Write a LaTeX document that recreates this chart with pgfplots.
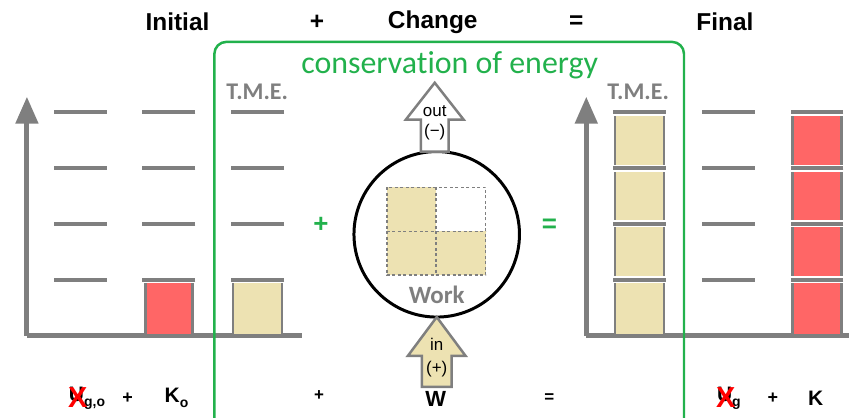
\documentclass[border=0pt]{standalone}
\usepackage{pgfplots}
\pgfplotsset{compat=1.18}
\usetikzlibrary{arrows.meta}
\usepackage{fontspec}
\setmainfont{Liberation Sans}
\newfontfamily\calibri[Ligatures={NoCommon}]{Carlito}
\definecolor{linegray}{RGB}{127,127,127}
\definecolor{barred}{RGB}{255,102,102}
\definecolor{tan}{RGB}{237,226,178}
\definecolor{cgreen}{RGB}{34,177,76}
\newcommand\fs[1]{\fontsize{#1}{#1}\selectfont}
\pgfplotsset{
  energybars/.style={
    scale only axis, height=239.5pt,
    ymin=0, ymax=4.277, xmin=0.4,
    axis lines=left,
    axis line style={draw=linegray, line width=5pt},
    x axis line style={-},
    y axis line style={-{Triangle[width=22pt,length=27pt]}},
    xtick=\empty, ytick=\empty, clip=false,
  },
  levelhalo/.style={only marks, mark=-, mark size=27pt, mark options={draw=white, line width=7pt}},
  levelline/.style={only marks, mark=-, mark size=26.5pt, mark options={draw=linegray, line width=4pt}},
  ebar/.style={ybar, bar shift=0pt, bar width=49pt, draw=linegray, line width=2.5pt},
}
\begin{document}
\begin{tikzpicture}
% ---------- Initial energy bar chart ----------
\begin{axis}[energybars, at={(27pt,82.5pt)}, anchor=south west,
  width=276pt, xmax=3.501]
\addplot[ebar, fill=barred, bar width=47pt] coordinates {(2,1)};
\addplot[ebar, fill=tan] coordinates {(3,1)};
\addplot[levelhalo] coordinates {(1,1)(1,2)(1,3)(1,4)(2,1)(2,2)(2,3)(2,4)(3,1)(3,2)(3,3)(3,4)};
\addplot[levelline] coordinates {(1,1)(1,2)(1,3)(1,4)(2,1)(2,2)(2,3)(2,4)(3,1)(3,2)(3,3)(3,4)};
\end{axis}
% ---------- Final energy bar chart ----------
\begin{axis}[energybars, at={(588pt,82.5pt)}, anchor=south west,
  width=263pt, xmax=3.355]
\addplot[ebar, fill=tan] coordinates {(1,4)};
\addplot[ebar, fill=barred] coordinates {(3,4)};
\addplot[levelhalo] coordinates {(1,1)(1,2)(1,3)(1,4)(2,1)(2,2)(2,3)(2,4)(3,1)(3,2)(3,3)(3,4)};
\addplot[levelline] coordinates {(1,1)(1,2)(1,3)(1,4)(2,1)(2,2)(2,3)(2,4)(3,1)(3,2)(3,3)(3,4)};
\end{axis}
% ---------- overlay in pixel coordinates ----------
\begin{axis}[at={(0,0)}, anchor=south west, scale only axis,
  width=851pt, height=419pt, xmin=0, xmax=851, ymin=0, ymax=419,
  y dir=reverse, hide axis, clip=false]
\path (axis cs:0,0) rectangle (axis cs:851,419);
% green conservation box
\draw[cgreen, line width=2.5pt, rounded corners=12pt]
  (axis cs:215,419) -- (axis cs:215,42) -- (axis cs:686,42) -- (axis cs:686,419);
\node[cgreen] at (axis cs:451,65) {\calibri\fs{32}conservation of energy};
% titles
\node at (axis cs:178,22) {\fs{24.5}\bfseries Initial};
\node at (axis cs:318,22) {\fs{24.5}\bfseries +};
\node at (axis cs:434,22) {\fs{24.5}\bfseries Change};
\node at (axis cs:578,22) {\fs{24.5}\bfseries =};
\node at (axis cs:727,22) {\fs{24.5}\bfseries Final};
% T.M.E. labels
\node[linegray] at (axis cs:258,92) {\calibri\fs{24}\bfseries T.M.E.};
\node[linegray] at (axis cs:640,92) {\calibri\fs{24}\bfseries T.M.E.};
% green operators
\node[cgreen] at (axis cs:322,226) {\fs{26}\bfseries +};
\node[cgreen] at (axis cs:551,226) {\fs{26}\bfseries =};
% work circle
\draw[black, line width=3pt] (axis cs:438,235) circle [radius=83pt];
\addplot[fill=tan, draw=none] coordinates {(388,188)(437.5,188)(437.5,232)(388,232)} --cycle;
\addplot[fill=tan, draw=none] coordinates {(388,232)(437.5,232)(437.5,276)(388,276)} --cycle;
\addplot[fill=tan, draw=none] coordinates {(437.5,232)(487,232)(487,276)(437.5,276)} --cycle;
\draw[linegray, line width=1.5pt, dash pattern=on 3pt off 2.5pt]
  (axis cs:388,188) rectangle (axis cs:487,276)
  (axis cs:437.5,188) -- (axis cs:437.5,276)
  (axis cs:388,232) -- (axis cs:487,232);
\node[linegray] at (axis cs:438,296) {\calibri\fs{25}\bfseries Work};
% out arrow
\draw[fill=white, draw=linegray, line width=2.5pt, line join=miter]
  (axis cs:436,83) -- (axis cs:465,120) -- (axis cs:450,120) -- (axis cs:450,152)
  -- (axis cs:422,152) -- (axis cs:422,120) -- (axis cs:407,120) -- cycle;
\node at (axis cs:436,111) {\fs{17}out};
\node at (axis cs:436,132) {\fs{17}(\textminus)};
% in arrow
\draw[fill=tan, draw=linegray, line width=2.5pt, line join=miter]
  (axis cs:438,318) -- (axis cs:467,357) -- (axis cs:453,357) -- (axis cs:453,388)
  -- (axis cs:423,388) -- (axis cs:423,357) -- (axis cs:409,357) -- cycle;
\node at (axis cs:438,345) {\fs{17}in};
\node at (axis cs:438,370) {\fs{17}(+)};
% bottom equation
\node[anchor=west, inner sep=0pt] at (axis cs:69,399) {\fs{21}\bfseries U\raisebox{-5pt}{\fs{14}g,o}};
\node[red] at (axis cs:78,399) {\fs{29}\bfseries X};
\node at (axis cs:128,399) {\fs{18}\bfseries +};
\node[anchor=west, inner sep=0pt] at (axis cs:165,399) {\fs{21}\bfseries K\raisebox{-5pt}{\fs{14}o}};
\node at (axis cs:320,397) {\fs{17}\bfseries +};
\node at (axis cs:437,400) {\fs{22}\bfseries W};
\node at (axis cs:551,399) {\fs{17}\bfseries =};
\node[anchor=west, inner sep=0pt] at (axis cs:719,399) {\fs{21}\bfseries U\raisebox{-5pt}{\fs{14}g}};
\node[red] at (axis cs:728,399) {\fs{29}\bfseries X};
\node at (axis cs:775,399) {\fs{18}\bfseries +};
\node at (axis cs:818,399) {\fs{21}\bfseries K};
\end{axis}
\end{tikzpicture}
\end{document}
